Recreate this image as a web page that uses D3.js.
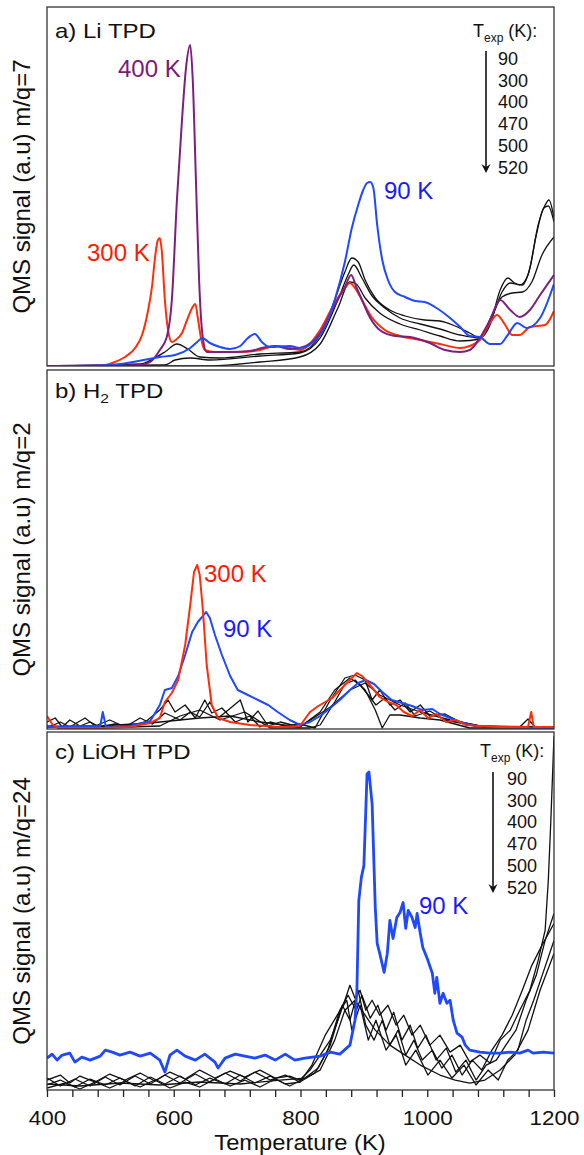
<!DOCTYPE html>
<meta charset="utf-8">
<script src="https://d3js.org/d3.v7.min.js"></script>
<style>
body { margin: 0; background: #fff; }
text { font-family: "Liberation Sans", Arial, sans-serif; }
.curve { fill: none; stroke-linejoin: round; }
.axis path { display: none; }
.axis line { stroke: #222; stroke-width: 1.3px; }
</style>
<body></body>
<script>

// ---- data: [temperature (K), QMS signal (a.u.)] ----

// a) Li TPD, m/q=7
var liTPD_90 = [[400,0],[499,1],[536,4],[578,9],[602,11],[626,18],[637,24],[645,28],[657,23],[673,19],[689,17],[705,20],[717,28],[728,32],[739,24],[752,19],[783,20],[799,18],[831,31],[854,66],[870,104],[881,138],[891,161],[899,176],[905,183],[910,184],[915,178],[921,141],[929,106],[938,86],[949,74],[965,69],[981,65],[996,64],[1012,59],[1036,48],[1052,39],[1067,30],[1083,29],[1099,22],[1115,22],[1127,31],[1142,43],[1157,38],[1178,48],[1200,82]];
var liTPD_300 = [[400,0],[492,1],[507,4],[523,9],[539,18],[550,31],[559,54],[566,81],[570,106],[575,126],[578,128],[581,116],[586,66],[591,36],[597,24],[603,26],[613,33],[621,46],[629,58],[634,62],[638,48],[643,28],[649,16],[665,14],[705,14],[736,16],[760,20],[783,18],[799,16],[831,36],[854,63],[870,78],[878,83],[888,76],[897,66],[910,51],[933,36],[957,30],[989,26],[1020,22],[1052,18],[1067,20],[1083,26],[1099,43],[1110,51],[1123,41],[1134,31],[1146,31],[1162,39],[1186,41],[1200,55]];
var liTPD_400 = [[400,0],[484,0],[547,1],[563,4],[578,16],[589,29],[597,66],[605,166],[613,246],[619,296],[626,321],[630,286],[635,186],[640,86],[645,33],[652,14],[689,14],[720,15],[739,18],[760,20],[783,17],[799,18],[831,33],[854,61],[870,79],[880,91],[888,79],[897,66],[910,48],[925,36],[949,30],[973,29],[1004,23],[1028,16],[1052,14],[1067,16],[1083,28],[1099,46],[1115,66],[1131,56],[1146,49],[1162,56],[1178,71],[1200,91]];
var liTPD_470 = [[400,0],[547,2],[570,8],[586,14],[605,22],[622,17],[641,9],[673,8],[736,12],[799,14],[831,31],[854,66],[870,94],[881,108],[891,104],[902,86],[918,68],[941,56],[965,50],[996,46],[1020,45],[1044,40],[1067,33],[1083,28],[1099,41],[1115,76],[1127,88],[1138,83],[1150,81],[1162,98],[1175,141],[1186,161],[1192,166],[1200,148]];
var liTPD_500 = [[400,0],[586,1],[602,6],[626,8],[657,6],[736,10],[799,13],[831,28],[859,66],[875,91],[884,101],[897,88],[913,70],[933,58],[957,48],[989,42],[1020,37],[1052,31],[1083,28],[1102,48],[1118,74],[1131,83],[1146,81],[1159,91],[1172,131],[1184,158],[1191,160],[1200,144]];
var liTPD_520 = [[400,0],[657,0],[736,4],[799,9],[831,22],[859,58],[878,84],[888,82],[902,68],[925,53],[957,42],[989,36],[1020,30],[1052,25],[1083,27],[1102,51],[1118,69],[1134,73],[1150,74],[1165,84],[1181,111],[1200,129]];

// b) H2 TPD, m/q=2
var h2TPD_90 = [[400,2],[452,3],[484,3],[488,17],[493,2],[531,3],[563,8],[578,24],[586,39],[597,41],[607,53],[618,74],[629,97],[638,107],[646,113],[651,117],[657,111],[665,94],[676,74],[689,53],[701,39],[717,34],[733,29],[749,24],[764,17],[783,9],[799,4],[815,7],[831,13],[847,21],[862,29],[878,39],[891,46],[903,49],[916,45],[929,37],[944,29],[960,26],[976,23],[992,19],[1008,20],[1020,15],[1036,11],[1052,7],[1075,3],[1115,2],[1200,1]];
var h2TPD_300 = [[400,13],[408,5],[417,1],[484,1],[531,2],[563,6],[578,11],[586,27],[597,36],[607,49],[618,84],[626,124],[632,157],[637,164],[641,154],[646,119],[652,64],[660,24],[670,11],[689,7],[720,4],[768,2],[799,3],[815,17],[828,23],[839,27],[850,31],[859,37],[870,44],[881,51],[889,56],[897,53],[907,46],[916,39],[925,32],[938,27],[951,24],[963,17],[976,13],[989,19],[1001,11],[1014,15],[1030,7],[1045,9],[1061,4],[1083,3],[1115,2],[1159,2],[1164,17],[1168,2],[1200,2]];
var h2TPD_400 = [[400,7],[413,11],[424,2],[436,9],[452,3],[468,7],[484,2],[507,5],[531,3],[555,7],[578,19],[591,29],[602,17],[618,24],[634,11],[649,29],[660,16],[676,21],[697,7],[720,13],[736,2],[752,7],[776,3],[799,5],[823,1],[847,29],[870,51],[886,54],[902,49],[913,29],[925,39],[941,24],[957,29],[973,17],[989,24],[1004,13],[1028,15],[1052,7],[1083,3],[1115,2],[1200,2]];
var h2TPD_470 = [[400,1],[421,7],[436,2],[460,11],[476,3],[499,9],[523,2],[547,11],[566,5],[586,16],[610,9],[626,17],[641,12],[657,27],[670,11],[686,19],[705,29],[717,7],[733,18],[749,3],[768,7],[799,2],[831,17],[854,39],[878,51],[894,44],[907,34],[919,24],[933,31],[949,19],[965,26],[981,13],[1004,18],[1028,9],[1060,5],[1091,2],[1146,2],[1159,10],[1170,2],[1200,2]];
var h2TPD_500 = [[400,2],[484,3],[563,6],[641,11],[689,13],[736,7],[799,2],[847,22],[878,39],[902,46],[925,34],[957,24],[989,17],[1036,9],[1083,3],[1200,2]];
var h2TPD_520 = [[400,3],[484,1],[578,3],[610,13],[641,19],[673,9],[712,17],[752,1],[815,1],[831,4],[854,27],[870,45],[886,49],[902,39],[918,19],[929,1],[941,14],[957,14],[989,11],[1020,9],[1067,1],[1200,1]];

// c) LiOH TPD, m/q=24
var liohTPD_90 = [[400,32],[408,36],[416,30],[424,35],[436,37],[444,28],[455,33],[468,30],[484,34],[492,40],[503,38],[515,35],[531,38],[547,34],[563,37],[578,30],[586,18],[594,35],[605,40],[618,34],[634,30],[649,36],[665,28],[670,22],[681,32],[697,36],[712,34],[728,32],[744,35],[760,30],[776,36],[791,30],[807,32],[831,34],[847,38],[862,36],[878,45],[886,70],[889,100],[892,190],[896,213],[900,225],[905,317],[908,319],[913,287],[918,183],[921,147],[925,137],[932,118],[937,137],[941,170],[946,152],[952,173],[957,178],[962,188],[966,162],[970,180],[976,173],[981,163],[984,177],[989,157],[993,143],[1001,130],[1008,117],[1012,97],[1015,113],[1020,87],[1025,97],[1031,87],[1036,90],[1041,70],[1047,57],[1055,53],[1060,45],[1067,40],[1083,38],[1099,37],[1115,37],[1131,38],[1146,37],[1159,40],[1167,37],[1183,38],[1200,37]];
var liohTPD_300 = [[400,10],[421,15],[436,7],[452,14],[476,8],[499,16],[523,10],[547,17],[570,9],[594,18],[618,11],[641,20],[665,12],[689,19],[712,13],[736,20],[760,12],[783,14],[799,10],[815,20],[831,35],[847,50],[859,70],[870,90],[878,105],[886,92],[894,100],[903,80],[913,90],[925,75],[938,85],[951,65],[963,75],[976,55],[989,65],[1004,45],[1020,55],[1036,38],[1052,45],[1067,28],[1083,35],[1099,27],[1115,50],[1131,60],[1146,80],[1162,100],[1175,130],[1186,160],[1191,210],[1195,270],[1200,355]];
var liohTPD_400 = [[400,5],[421,10],[444,3],[468,11],[492,5],[515,12],[539,4],[563,13],[586,6],[610,14],[634,5],[657,12],[681,6],[705,15],[728,7],[752,14],[776,6],[799,8],[823,17],[843,40],[862,80],[875,95],[888,80],[897,95],[910,72],[922,85],[935,60],[947,78],[960,50],[973,65],[985,42],[998,55],[1014,30],[1030,42],[1045,18],[1061,30],[1077,10],[1093,25],[1109,30],[1124,45],[1140,60],[1156,90],[1172,115],[1186,150],[1200,177]];
var liohTPD_470 = [[400,2],[428,7],[452,1],[476,8],[499,2],[523,9],[547,3],[570,10],[594,2],[618,8],[641,3],[665,11],[689,4],[712,10],[736,3],[760,11],[783,4],[807,12],[828,22],[847,45],[866,85],[878,70],[891,100],[903,65],[916,50],[929,70],[941,45],[954,60],[966,35],[979,50],[992,30],[1008,40],[1023,22],[1039,35],[1055,15],[1071,30],[1086,20],[1102,40],[1118,55],[1134,75],[1150,100],[1165,125],[1181,145],[1200,167]];
var liohTPD_500 = [[400,6],[452,4],[515,7],[578,5],[641,8],[705,6],[768,10],[807,12],[831,20],[854,50],[870,80],[886,90],[902,75],[918,60],[941,45],[965,35],[989,25],[1020,15],[1044,10],[1067,7],[1091,10],[1115,20],[1138,35],[1159,60],[1178,100],[1200,137]];
var liohTPD_520 = [[400,12],[421,4],[444,11],[468,4],[492,13],[515,5],[539,14],[563,6],[586,15],[610,7],[634,16],[657,8],[681,17],[705,9],[728,18],[752,10],[776,15],[799,8],[818,25],[839,55],[858,75],[873,90],[881,60],[894,85],[907,50],[919,70],[935,40],[951,55],[966,25],[982,40],[1001,15],[1020,30],[1039,12],[1058,25],[1077,5],[1096,20],[1112,10],[1127,30],[1143,40],[1156,70],[1168,90],[1184,120],[1200,150]];

// legend and axis labels
var texpValues = [90, 300, 400, 470, 500, 520];
var xTickValues = [400, 440, 480, 520, 560, 600, 640, 680, 720, 760, 800, 840, 880, 920, 960, 1000, 1040, 1080, 1120, 1160, 1200];
var xTickLabels = [400, 600, 800, 1000, 1200];

// ---- layout ----
var width = 584, height = 1155;
var left = 47, right = 554;
var colBlue = '#1f48ff', colRed = '#ff2d0a', colPurple = '#7c1f80';

var svg = d3.select('body').append('svg')
  .attr('width', width)
  .attr('height', height);

var xScale = d3.scaleLinear().domain([400, 1200]).range([left, right]);

// helper for text that is a bit wider than plain Arial
function addText(g, x, y, str, size, sx, color, anchor, rotate) {
  var t = g.append('text')
    .attr('transform', 'translate(' + x + ',' + y + ')' + (rotate ? ' rotate(-90)' : '') + ' scale(' + sx + ',1)')
    .style('font-size', size + 'px')
    .style('fill', color || '#111')
    .attr('text-anchor', anchor || 'start');
  if (str !== null) t.text(str);
  return t;
}

var panels = [
  { id: 'a', top: 7, bottom: 366, ylab: 'QMS signal (a.u) m/q=7', titleY: 38, smooth: true,
    series: [
      { d: liTPD_470, c: '#111', w: 1.3 }, { d: liTPD_500, c: '#111', w: 1.3 }, { d: liTPD_520, c: '#111', w: 1.3 },
      { d: liTPD_300, c: colRed, w: 2 }, { d: liTPD_400, c: colPurple, w: 2 }, { d: liTPD_90, c: colBlue, w: 2 }
    ],
    labels: [
      { t: '400 K', x: 118, y: 77, c: '#7a1a7c' },
      { t: '300 K', x: 87, y: 261, c: '#ff1a00' },
      { t: '90 K', x: 384, y: 199, c: '#1a1aff' }
    ],
    legend: { x: 473, y: 37, numX: 498, numY: 65, arrowX: 486, a0: 51, a1: 173 } },
  { id: 'b', top: 370, bottom: 729, ylab: 'QMS signal (a.u) m/q=2', titleY: 398, smooth: false,
    series: [
      { d: h2TPD_400, c: '#111', w: 1.3 }, { d: h2TPD_470, c: '#111', w: 1.3 }, { d: h2TPD_500, c: '#111', w: 1.3 },
      { d: h2TPD_520, c: '#111', w: 1.3 }, { d: h2TPD_90, c: colBlue, w: 2 }, { d: h2TPD_300, c: colRed, w: 2 }
    ],
    labels: [
      { t: '300 K', x: 204, y: 582, c: '#ff1a00' },
      { t: '90 K', x: 223, y: 637, c: '#1a1aff' }
    ] },
  { id: 'c', top: 732, bottom: 1090, ylab: 'QMS signal (a.u) m/q=24', titleY: 759, smooth: false,
    series: [
      { d: liohTPD_300, c: '#111', w: 1.3 }, { d: liohTPD_400, c: '#111', w: 1.3 }, { d: liohTPD_470, c: '#111', w: 1.3 },
      { d: liohTPD_500, c: '#111', w: 1.3 }, { d: liohTPD_520, c: '#111', w: 1.3 }, { d: liohTPD_90, c: colBlue, w: 2.8 }
    ],
    labels: [
      { t: '90 K', x: 419, y: 914, c: '#1a1aff' }
    ],
    legend: { x: 480, y: 757, numX: 507, numY: 785, arrowX: 493, a0: 772, a1: 893 } }
];

panels.forEach(function(p) {
  var yScale = d3.scaleLinear().domain([0, 359]).range([p.bottom, p.top]);
  var g = svg.append('g').attr('class', 'panel-' + p.id);

  g.append('clipPath').attr('id', 'clip-' + p.id)
    .append('rect')
    .attr('x', left).attr('y', p.top)
    .attr('width', right - left).attr('height', p.bottom - p.top);

  var lineGenerator = d3.line()
    .x(function(d) { return xScale(d[0]); })
    .y(function(d) { return yScale(d[1]); })
    .curve(p.smooth ? d3.curveMonotoneX : d3.curveLinear);

  g.append('g').attr('clip-path', 'url(#clip-' + p.id + ')')
    .selectAll('path')
    .data(p.series).enter().append('path')
    .attr('class', 'curve')
    .attr('d', function(s) { return lineGenerator(s.d); })
    .style('stroke', function(s) { return s.c; })
    .style('stroke-width', function(s) { return s.w; });

  // frame
  g.append('rect')
    .attr('x', left).attr('y', p.top)
    .attr('width', right - left).attr('height', p.bottom - p.top)
    .style('fill', 'none').style('stroke', '#333').style('stroke-width', 1.3);

  // panel title
  var title = addText(g, 55, p.titleY, null, 20, 1.2, '#111');
  if (p.id === 'a') title.text('a) Li TPD');
  if (p.id === 'b') {
    title.append('tspan').text('b) H');
    title.append('tspan').attr('dy', 5).style('font-size', '13px').text('2');
    title.append('tspan').attr('dy', -5).text(' TPD');
  }
  if (p.id === 'c') title.text('c) LiOH TPD');

  // y label
  addText(g, 30, (p.top + p.bottom) / 2, p.ylab, 24, 1, '#111', 'middle', true);

  // curve labels
  p.labels.forEach(function(l) {
    addText(g, l.x, l.y, l.t, 24, 1, l.c);
  });

  // T_exp legend
  if (p.legend) {
    var L = p.legend;
    var head = addText(g, L.x, L.y, null, 18, 1, '#111');
    head.append('tspan').text('T');
    head.append('tspan').attr('dy', 5).style('font-size', '12px').text('exp');
    head.append('tspan').attr('dy', -5).text(' (K):');

    g.selectAll('.texp-' + p.id)
      .data(texpValues).enter().append('text')
      .attr('class', 'texp-' + p.id)
      .attr('x', L.numX)
      .attr('y', function(d, i) { return L.numY + i * 21.7; })
      .style('font-size', '18px')
      .style('fill', '#111')
      .text(function(d) { return d; });

    g.append('line')
      .attr('x1', L.arrowX).attr('x2', L.arrowX)
      .attr('y1', L.a0).attr('y2', L.a1 - 6)
      .style('stroke', '#111').style('stroke-width', 1.6);
    g.append('path')
      .attr('d', 'M' + (L.arrowX - 4.5) + ',' + (L.a1 - 9) + 'L' + L.arrowX + ',' + L.a1 + 'L' + (L.arrowX + 4.5) + ',' + (L.a1 - 9) + 'L' + L.arrowX + ',' + (L.a1 - 6) + 'Z')
      .style('fill', '#111');
  }

  // bottom axis only under the last panel
  if (p.id === 'c') {
    var xAxis = d3.axisBottom(xScale)
      .tickValues(xTickValues)
      .tickSize(7)
      .tickFormat(function(d) { return xTickLabels.indexOf(d) >= 0 ? d : ''; });

    var xAxisGroup = g.append('g')
      .attr('class', 'x axis')
      .attr('transform', 'translate(0,' + p.bottom + ')')
      .call(xAxis);

    xAxisGroup.selectAll('text')
      .attr('y', 35).attr('dy', 0)
      .attr('transform', 'scale(1.12,1)')
      .style('font-size', '20px')
      .style('font-family', '"Liberation Sans", Arial, sans-serif')
      .style('fill', '#111');

    addText(g, 300, 1150, 'Temperature (K)', 22, 1.08, '#111', 'middle');
  }
});

</script>
